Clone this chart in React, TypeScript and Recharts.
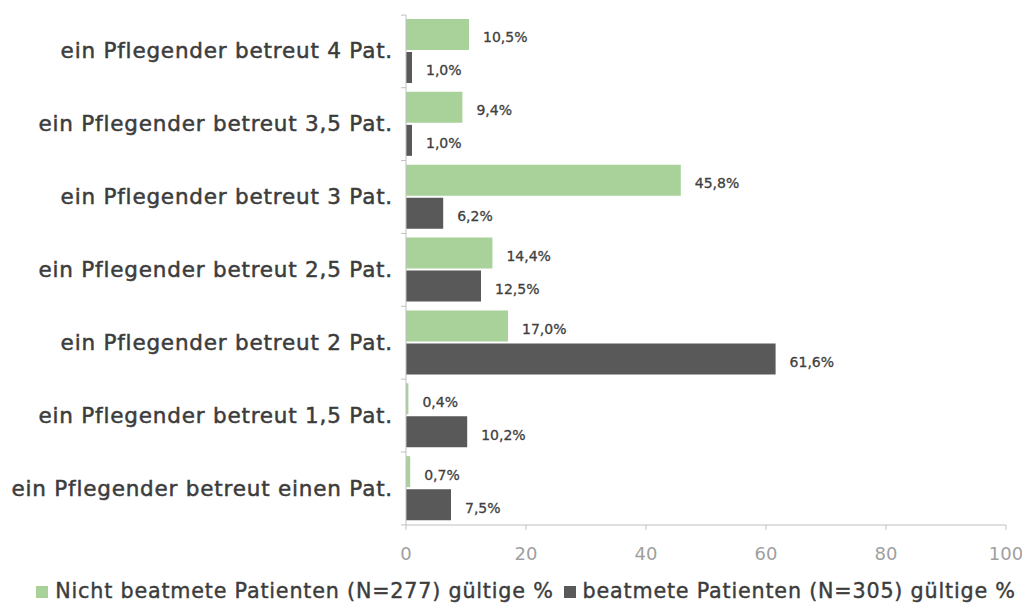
import { BarChart, Bar, XAxis, YAxis, Legend, LabelList } from 'recharts';

const categories = [
  'ein Pflegender betreut 4 Pat.',
  'ein Pflegender betreut 3,5 Pat.',
  'ein Pflegender betreut 3 Pat.',
  'ein Pflegender betreut 2,5 Pat.',
  'ein Pflegender betreut 2 Pat.',
  'ein Pflegender betreut 1,5 Pat.',
  'ein Pflegender betreut einen Pat.',
];
const nichtBeatmet = [10.5, 9.4, 45.8, 14.4, 17.0, 0.4, 0.7];
const beatmet = [1.0, 1.0, 6.2, 12.5, 61.6, 10.2, 7.5];
const xTicks = [0, 20, 40, 60, 80, 100];

const data = categories.map((name, i) => ({
  name,
  nicht: nichtBeatmet[i],
  beatmet: beatmet[i],
}));

const font = '"DejaVu Sans", sans-serif';
const textColor = '#3c3c3c';
const fmt = (v: any) => `${Number(v).toFixed(1).replace('.', ',')}%`;

const CategoryTick = (props: any) => {
  const { x, y, payload, index } = props;
  const half = 508 / 7 / 2;
  return (
    <g>
      <text
        x={x - 5}
        y={y}
        dy={7}
        textAnchor="end"
        fontSize={21.5}
        letterSpacing={0.8}
        fontFamily={font}
        fill={textColor}
        stroke={textColor}
        strokeWidth={0.5}
      >
        {payload.value}
      </text>
      <line x1={x + 3} x2={x + 8} y1={y + half} y2={y + half} stroke="#bfbfbf" />
      {index === 0 && (
        <line x1={x + 3} x2={x + 8} y1={y - half} y2={y - half} stroke="#bfbfbf" />
      )}
    </g>
  );
};

const labelProps = {
  position: 'right' as const,
  offset: 14,
  formatter: fmt,
  fill: '#404040',
  stroke: '#404040',
  strokeWidth: 0.3,
  fontSize: 14,
  fontFamily: font,
  dy: 3,
};

export default function App() {
  return (
    <BarChart
      width={1014}
      height={601}
      data={data}
      layout="vertical"
      barSize={31}
      barGap={2}
      margin={{ top: 7, right: 16, bottom: 6, left: 0 }}
    >
      <XAxis
        type="number"
        domain={[0, 100]}
        ticks={xTicks}
        axisLine={{ stroke: '#bfbfbf' }}
        tickLine={{ stroke: '#bfbfbf' }}
        tickSize={5}
        tick={{ fill: '#a0a0a0', fontSize: 18, fontFamily: font }}
        tickMargin={17}
        height={54}
      />
      <YAxis
        type="category"
        dataKey="name"
        width={398}
        axisLine={{ stroke: '#bfbfbf' }}
        tickLine={false}
        tick={<CategoryTick />}
        interval={0}
      />
      <Legend
        iconType="square"
        iconSize={12}
        wrapperStyle={{
          left: 24,
          fontFamily: font,
          fontSize: 20.7,
          letterSpacing: '0.8px',
          WebkitTextStroke: '0.4px #3c3c3c',
        }}
        formatter={(value: string) => (
          <span style={{ color: textColor, marginLeft: 3 }}>{value}</span>
        )}
      />
      <Bar
        dataKey="nicht"
        name="Nicht beatmete Patienten (N=277) gültige %"
        fill="#a8d29a"
        isAnimationActive={false}
      >
        <LabelList dataKey="nicht" {...labelProps} />
      </Bar>
      <Bar
        dataKey="beatmet"
        name="beatmete Patienten (N=305) gültige %"
        fill="#595959"
        isAnimationActive={false}
      >
        <LabelList dataKey="beatmet" {...labelProps} />
      </Bar>
    </BarChart>
  );
}
